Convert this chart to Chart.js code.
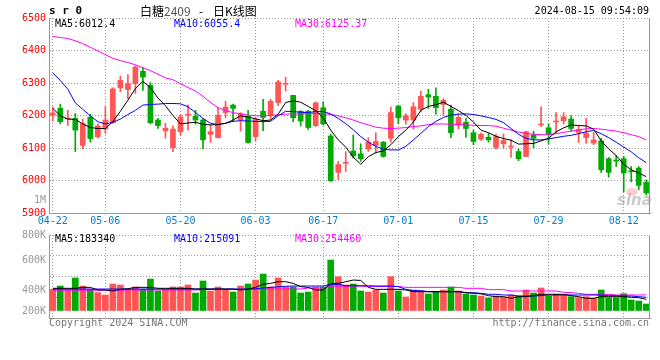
<!DOCTYPE html>
<html>
<head>
<meta charset="utf-8">
<script src="https://cdn.jsdelivr.net/npm/chart.js@4.4.1/dist/chart.umd.min.js"></script>
<style>
  html, body { margin: 0; padding: 0; background: #fff; }
  #wrap { position: relative; width: 660px; height: 360px; }
  #wrap canvas { position: absolute; left: 0; top: 0; }
</style>
</head>
<body>
<div id="wrap">
  <canvas id="volChart" width="660" height="360"></canvas>
  <canvas id="kChart" width="660" height="360"></canvas>
</div>
<script>
// trading days shown on the daily K chart
const dates = [
  '04-22','04-23','04-24','04-25','04-26','04-29','04-30',
  '05-06','05-07','05-08','05-09','05-10','05-13','05-14','05-15','05-16','05-17',
  '05-20','05-21','05-22','05-23','05-24','05-27','05-28','05-29','05-30','05-31',
  '06-03','06-04','06-05','06-06','06-07','06-11','06-12','06-13','06-14',
  '06-17','06-18','06-19','06-20','06-21','06-24','06-25','06-26','06-27','06-28',
  '07-01','07-02','07-03','07-04','07-05','07-08','07-09','07-10','07-11','07-12',
  '07-15','07-16','07-17','07-18','07-19','07-22','07-23','07-24','07-25','07-26',
  '07-29','07-30','07-31','08-01','08-02','08-05','08-06','08-07','08-08','08-09',
  '08-12','08-13','08-14','08-15'
];
const dateTicks = ['04-22','05-06','05-20','06-03','06-17','07-01','07-15','07-29','08-12'];

const opens = [6201,6222,6189,6191,6108,6195,6135,6158,6178,6285, 6280,6298,6336,6293,6186,6153,6101,6150,6201,6198,
  6186,6142,6132,6209,6232,6186,6198,6135,6213,6201, 6240,6296,6262,6213,6213,6169,6224,6137,6025,6053,
  6091,6082,6097,6108,6118,6130,6229,6186,6186,6219, 6264,6259,6234,6219,6171,6179,6147,6127,6133,6102,
  6113,6103,6089,6074,6140,6171,6162,6180,6184,6189, 6148,6132,6115,6122,6067,6062,6067,6029,6038,5994];
const highs = [6226,6235,6216,6206,6189,6204,6174,6227,6285,6321, 6326,6352,6347,6301,6191,6176,6168,6203,6232,6216,
  6190,6171,6224,6244,6235,6209,6216,6193,6250,6250, 6308,6318,6262,6215,6216,6242,6242,6143,6059,6089,
  6140,6113,6132,6147,6120,6226,6232,6206,6240,6275, 6281,6285,6252,6232,6206,6191,6155,6147,6145,6143,
  6143,6125,6097,6152,6152,6227,6174,6209,6209,6199, 6168,6191,6148,6130,6071,6077,6074,6043,6043,6002];
const lows = [6183,6174,6169,6089,6097,6118,6130,6145,6176,6273, 6252,6268,6277,6174,6160,6130,6089,6140,6155,6173,
  6097,6117,6130,6193,6181,6152,6115,6123,6153,6189, 6230,6275,6181,6168,6157,6166,6171,5997,6003,6028,
  6069,6059,6089,6084,6072,6118,6174,6173,6158,6211, 6222,6204,6199,6132,6158,6133,6110,6123,6118,6097,
  6099,6071,6061,6074,6101,6166,6112,6145,6174,6152, 6117,6115,6110,6025,6010,6043,5965,5996,5972,5955];
const closes = [6208,6181,6192,6155,6175,6129,6168,6186,6282,6308, 6298,6349,6318,6178,6169,6161,6158,6196,6204,6186,
  6125,6150,6201,6226,6222,6206,6117,6188,6194,6244, 6303,6298,6193,6183,6163,6239,6174,5999,6049,6056,
  6076,6067,6118,6120,6074,6209,6193,6199,6227,6259, 6257,6224,6247,6147,6194,6160,6120,6142,6125,6135,
  6123,6105,6067,6150,6130,6173,6142,6182,6196,6160, 6157,6145,6125,6033,6025,6060,6023,6027,5985,5962];

const ma5 = [6222,6199,6189,6188,6174,6163,6160,6160,6181,6213, 6247,6283,6305,6286,6254,6230,6200,6174,6177,6179,
  6173,6171,6172,6176,6186,6199,6195,6190,6184,6186, 6204,6240,6245,6241,6228,6215,6193,6155,6125,6103,
  6072,6050,6073,6086,6091,6110,6135,6155,6180,6216, 6228,6233,6241,6228,6215,6200,6180,6155,6147,6136,
  6129,6124,6112,6113,6114,6122,6130,6150,6162,6171, 6169,6168,6158,6122,6097,6077,6050,6033,6023,6012];
const ma10 = [6331,6308,6281,6239,6219,6199,6181,6174,6179,6189, 6203,6216,6232,6234,6235,6237,6237,6236,6227,6209,
  6191,6176,6172,6176,6182,6184,6183,6182,6181,6182, 6199,6213,6212,6210,6209,6212,6212,6205,6191,6175,
  6156,6135,6118,6105,6096,6094,6094,6105,6125,6145, 6166,6182,6194,6201,6204,6205,6203,6199,6194,6188,
  6178,6160,6142,6130,6125,6125,6128,6132,6136,6139, 6144,6150,6154,6144,6132,6118,6103,6088,6070,6055];
const ma30 = [6443,6440,6437,6430,6421,6410,6399,6387,6376,6369, 6363,6356,6347,6338,6327,6316,6310,6298,6286,6275,
  6259,6240,6224,6215,6209,6205,6201,6199,6199,6200, 6202,6204,6205,6205,6206,6206,6206,6203,6199,6193,
  6186,6178,6171,6164,6161,6160,6161,6163,6166,6168, 6172,6174,6174,6173,6172,6171,6170,6169,6169,6167,
  6161,6155,6149,6145,6142,6141,6141,6144,6148,6152, 6156,6159,6160,6158,6155,6152,6147,6141,6135,6125];

// volume, in thousands of lots
const volumes = [340,392,340,518,392,340,288,251,424,408, 340,377,340,502,314,340,377,377,408,282,
  471,314,377,340,298,392,424,486,580,377, 518,377,377,282,298,377,377,800,539,408,
  424,314,298,330,282,539,314,220,330,314, 267,303,330,377,314,267,251,235,204,235,
  220,251,235,330,282,361,235,262,251,225, 209,225,199,330,209,209,272,173,157,110];
const volMa5 = [356,356,356,356,371,371,330,330,314,340, 350,371,371,371,356,356,356,356,356,345,
  345,345,345,345,345,330,345,371,418,434, 460,460,434,382,371,330,330,434,434,460,
  486,480,371,340,340,340,340,330,303,303, 303,303,303,303,303,288,277,270,241,225,
  225,199,225,225,241,262,262,262,262,241, 225,199,199,225,225,225,225,215,209,183];
const volMa10 = [345,345,345,345,345,345,345,345,345,345, 345,345,345,345,345,345,345,345,345,345,
  345,345,345,345,345,345,345,350,360,370, 380,388,392,392,392,392,392,418,418,397,
  397,397,397,392,392,392,382,340,320,320, 303,303,303,303,303,288,288,277,262,262,
  251,251,235,235,235,241,251,251,251,251, 251,251,251,251,241,241,235,235,225,215];
const volMa30 = [325,325,325,325,325,325,325,325,325,325, 330,330,330,330,330,330,330,330,330,330,
  338,338,338,338,338,338,338,338,345,345, 345,345,345,345,360,360,360,390,390,390,
  390,390,385,385,385,385,385,371,371,371, 371,371,371,371,371,356,356,356,335,335,
  335,314,314,314,314,314,314,314,293,288, 277,262,262,262,262,251,251,251,251,254];

const priceTicks = [5900, 6000, 6100, 6200, 6300, 6400, 6500];
const volTickLabels = ['200K', '400K', '600K', '800K'];
const priceLegend = ['MA5:6012.4', 'MA10:6055.4', 'MA30:6125.37'];
const volLegend = ['MA5:183340', 'MA10:215091', 'MA30:254460'];

// ---- look ----
const mono = '"DejaVu Sans Mono", "Liberation Mono", monospace';
const upColor = '#FF5555';
const downColor = '#00AA00';
const gridColor = '#999999';
const frameColor = '#999999';
const maColors = ['#000000', '#0000FF', '#FF00FF'];

const candleColors = closes.map((c, i) => (c >= opens[i] ? upColor : downColor));
const bodies = opens.map((o, i) => [o, closes[i]]);
const wicks = lows.map((l, i) => [l, highs[i]]);

// sina puts a grey "1M" mark inside the price panel
const oneMAt = 5939;
// volume axis (thousands), 0 sits a few px above the panel bottom
const volMin = -110, volMax = 1193;
const volLabelAt = [0, 319, 801, 1193];
const volGridAt = [1, 2, 3, 4].map(k => volMin + k * (volMax - volMin) / 4);

const frame = {
  id: 'frame',
  afterDraw(chart) {
    const { ctx, chartArea: a } = chart;
    ctx.save();
    ctx.strokeStyle = frameColor;
    ctx.lineWidth = 1;
    const x = Math.round(a.right) - 0.5;
    ctx.beginPath();
    ctx.moveTo(x, a.top);
    ctx.lineTo(x, a.bottom);
    ctx.stroke();
    ctx.restore();
  }
};

function drawLegend(ctx, texts, y) {
  const xs = [55, 174, 295];
  ctx.font = '10px ' + mono;
  ctx.textBaseline = 'middle';
  ctx.textAlign = 'left';
  texts.forEach((t, i) => {
    ctx.fillStyle = maColors[i];
    ctx.fillText(t, xs[i], y);
  });
}

const kText = {
  id: 'kText',
  afterDraw(chart) {
    const ctx = chart.ctx;
    ctx.save();
    ctx.textBaseline = 'middle';
    ctx.fillStyle = '#000';
    ctx.font = 'bold 11px ' + mono;
    ctx.fillText('s r 0', 49, 11);
    ctx.font = '12px "Noto Sans CJK SC"';
    ctx.fillText('白糖', 140, 11);
    ctx.fillStyle = '#555';
    ctx.fillText('2409', 164, 11);
    ctx.fillStyle = '#000';
    ctx.fillText('-', 199, 11);
    ctx.fillText('日K线图', 213, 11);
    ctx.font = '10px ' + mono;
    ctx.textAlign = 'right';
    ctx.fillText('2024-08-15 09:54:09', 649, 11);
    drawLegend(ctx, priceLegend, 24);
    // watermark
    ctx.font = 'italic bold 15px "DejaVu Sans"';
    ctx.textAlign = 'left';
    ctx.fillStyle = 'rgba(140,140,140,0.45)';
    ctx.fillText('sina', 617, 201);
    ctx.fillStyle = 'rgba(240,120,120,0.35)';
    ctx.beginPath();
    ctx.ellipse(632, 192, 6, 4, 0, 0, Math.PI * 2);
    ctx.fill();
    ctx.restore();
  }
};

const volText = {
  id: 'volText',
  afterDraw(chart) {
    const ctx = chart.ctx;
    ctx.save();
    drawLegend(ctx, volLegend, 239);
    ctx.font = '10px ' + mono;
    ctx.fillStyle = '#777';
    ctx.textAlign = 'left';
    ctx.fillText('Copyright 2024 SINA.COM', 49, 323);
    ctx.textAlign = 'right';
    ctx.fillText('http://finance.sina.com.cn', 649, 323);
    ctx.restore();
  }
};

const dateTickCallback = function (v, i) {
  return dateTicks.includes(dates[i]) ? dates[i] : '';
};
const dateGridColor = c => (c.tick && c.tick.label ? gridColor : 'transparent');

// ---- price panel ----
new Chart(document.getElementById('kChart'), {
  type: 'bar',
  data: {
    labels: dates,
    datasets: [
      { type: 'line', data: ma5, borderColor: maColors[0], borderWidth: 1, pointRadius: 0, order: 0 },
      { type: 'line', data: ma10, borderColor: maColors[1], borderWidth: 1, pointRadius: 0, order: 0 },
      { type: 'line', data: ma30, borderColor: maColors[2], borderWidth: 1, pointRadius: 0, order: 0 },
      { data: bodies, backgroundColor: candleColors, barThickness: 5, minBarLength: 1, grouped: false, order: 1 },
      { data: wicks, backgroundColor: candleColors, barThickness: 1, grouped: false, order: 2 }
    ]
  },
  options: {
    responsive: false,
    animation: false,
    events: [],
    layout: { padding: { left: 0, right: 10, top: 18, bottom: 132 } },
    plugins: { legend: { display: false }, tooltip: { enabled: false } },
    scales: {
      x: {
        offset: true,
        grid: { offset: false, color: dateGridColor, drawTicks: false },
        border: { display: true, color: frameColor, dash: [1, 2] },
        ticks: {
          autoSkip: false, maxRotation: 0, padding: 2, color: '#0080D0',
          font: { family: mono, size: 10 }, callback: dateTickCallback
        },
        afterFit: s => { s.height = 15; }
      },
      y: {
        min: 5900, max: 6500,
        afterBuildTicks: s => {
          s.ticks = priceTicks.map(v => ({ value: v })).concat([{ value: oneMAt }]);
        },
        grid: { color: c => (c.tick && c.tick.value === oneMAt ? 'transparent' : gridColor), drawTicks: false },
        border: { color: frameColor, dash: [1, 2] },
        ticks: {
          autoSkip: false, padding: 3, font: { family: mono, size: 10 },
          color: c => (c.tick && c.tick.value === oneMAt ? '#999' : '#FF0000'),
          callback: v => (v === oneMAt ? '1M' : String(v))
        },
        afterFit: s => { s.width = 49; }
      }
    }
  },
  plugins: [frame, kText]
});

// ---- volume panel ----
new Chart(document.getElementById('volChart'), {
  type: 'bar',
  data: {
    labels: dates,
    datasets: [
      { type: 'line', data: volMa5, borderColor: maColors[0], borderWidth: 1, pointRadius: 0, order: 0 },
      { type: 'line', data: volMa10, borderColor: maColors[1], borderWidth: 1, pointRadius: 0, order: 0 },
      { type: 'line', data: volMa30, borderColor: maColors[2], borderWidth: 1, pointRadius: 0, order: 0 },
      { data: volumes, backgroundColor: candleColors, barThickness: 6, grouped: false, order: 1 }
    ]
  },
  options: {
    responsive: false,
    animation: false,
    events: [],
    layout: { padding: { left: 0, right: 10, top: 235, bottom: 42 } },
    plugins: { legend: { display: false }, tooltip: { enabled: false } },
    scales: {
      x: {
        offset: true,
        grid: { offset: false, color: dateGridColor, drawTicks: false },
        border: { display: true, color: frameColor, dash: [1, 2] },
        ticks: { display: false, autoSkip: false, callback: dateTickCallback },
        afterFit: s => { s.height = 0; }
      },
      y: {
        min: volMin, max: volMax,
        afterBuildTicks: s => {
          const vals = Array.from(new Set(volLabelAt.concat(volGridAt))).sort((a, b) => a - b);
          s.ticks = vals.map(v => ({ value: v }));
        },
        grid: {
          color: c => (c.tick && volGridAt.some(g => Math.abs(g - c.tick.value) < 1e-6) ? gridColor : 'transparent'),
          drawTicks: false
        },
        border: { color: frameColor, dash: [1, 2] },
        ticks: {
          autoSkip: false, padding: 3, color: '#999', font: { family: mono, size: 10 },
          callback: v => {
            const k = volLabelAt.indexOf(v);
            return k >= 0 ? volTickLabels[k] : '';
          }
        },
        afterFit: s => { s.width = 49; }
      }
    }
  },
  plugins: [frame, volText]
});
</script>
</body>
</html>
